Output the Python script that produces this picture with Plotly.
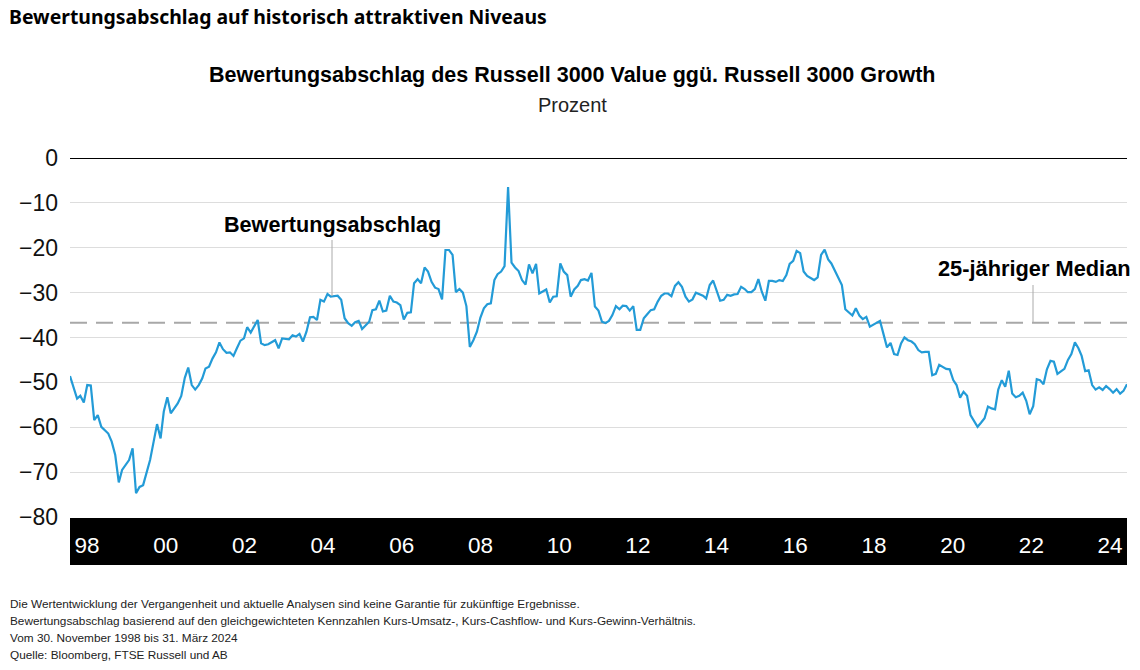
import pandas as pd
import plotly.graph_objects as go

# ---------------- data ----------------
start_date = "1998-11-30"
month_offset = [
    0, 2, 3, 4, 5, 6, 7, 8, 9, 11, 12, 13, 14, 15, 17, 18, 19, 20, 21, 23, 25, 26, 27, 28, 29,
    31, 32, 33, 34, 35, 36, 37, 38, 39, 40, 41, 42, 43, 44, 45, 46, 47, 48, 49, 50, 51, 52, 53,
    54, 55, 56, 57, 59, 60, 61, 63, 64, 65, 66, 67, 68, 69, 70, 71, 72, 73, 74, 75, 77, 78, 79,
    80, 81, 82, 83, 84, 85, 86, 87, 88, 89, 90, 91, 92, 93, 94, 95, 96, 97, 98, 99, 100, 101,
    102, 103, 104, 105, 106, 107, 108, 109, 110, 111, 112, 113, 114, 115, 116, 117, 118, 119,
    120, 121, 122, 123, 124, 125, 126, 127, 128, 129, 130, 131, 132, 133, 134, 135, 137, 138,
    139, 140, 141, 142, 143, 144, 145, 146, 147, 148, 149, 150, 151, 152, 153, 154, 155, 156,
    157, 158, 159, 160, 161, 162, 163, 164, 165, 166, 167, 168, 169, 170, 171, 172, 173, 174,
    175, 176, 177, 178, 179, 180, 181, 182, 183, 184, 185, 186, 187, 188, 189, 190, 191, 192,
    193, 194, 195, 196, 197, 198, 199, 200, 201, 202, 203, 204, 205, 206, 207, 208, 209, 210,
    211, 212, 213, 214, 215, 216, 217, 218, 219, 220, 221, 222, 223, 224, 225, 226, 227, 228,
    229, 230, 232, 233, 234, 235, 236, 237, 238, 239, 240, 241, 242, 243, 244, 245, 246, 247,
    248, 249, 250, 251, 252, 253, 254, 255, 256, 257, 258, 259, 260, 261, 262, 263, 264, 265,
    266, 267, 268, 269, 270, 271, 272, 273, 274, 275, 276, 277, 278, 279, 280, 281, 282, 283,
    284, 285, 286, 287, 288, 289, 290, 291, 292, 293, 294, 295, 296, 297, 298, 299, 300, 301,
    302, 303, 304,
]
discount = [
    -48.6, -53.6, -53.0, -54.5, -50.6, -50.7, -58.4, -57.3, -59.9, -61.4, -63.2, -66.2, -72.3,
    -69.5, -67.3, -64.7, -74.7, -73.3, -72.9, -67.3, -59.3, -62.5, -56.5, -53.3, -56.9,
    -54.7, -53.0, -49.0, -46.7, -50.6, -51.6, -50.6, -49.1, -46.9, -46.5, -44.7, -43.3, -41.1,
    -42.6, -43.4, -43.3, -44.1, -42.4, -40.7, -40.2, -37.7, -38.9, -37.4,
    -36.1, -41.3, -41.7, -41.5, -40.6, -42.4, -40.2, -40.4, -39.5, -39.8, -39.2, -40.9, -38.7,
    -35.5, -35.4, -36.1, -31.6, -32.0, -30.3, -30.9, -30.7, -31.6, -35.7,
    -36.8, -37.4, -36.6, -36.3, -38.1, -37.4, -36.5, -33.9, -33.7, -31.8, -34.2, -34.0, -30.7,
    -32.0, -32.2, -32.8, -36.0, -34.5, -34.4, -27.9, -27.0, -27.9,
    -24.4, -25.3, -27.6, -28.9, -29.2, -31.5, -20.5, -20.5, -21.6, -29.9, -29.2, -30.0, -33.0,
    -42.1, -40.6, -38.7, -35.6, -33.5,
    -32.6, -32.4, -27.2, -25.9, -25.3, -24.1, -6.5, -23.3, -24.4, -25.2, -27.2, -28.2, -23.7,
    -25.7, -23.6, -30.2, -29.3, -32.2,
    -30.9, -30.8, -23.5, -25.3, -26.1, -30.9, -29.3, -28.5, -27.2, -27.0, -27.3, -25.6, -33.1,
    -34.0, -36.5, -36.8, -36.3, -35.0,
    -33.0, -33.7, -32.9, -33.0, -34.0, -33.0, -38.3, -38.3, -35.7, -34.8, -33.9, -33.7, -32.0,
    -30.7, -30.2, -30.2, -30.8, -28.5,
    -27.7, -28.7, -30.9, -32.0, -31.5, -30.0, -30.3, -30.7, -31.3, -28.3, -27.3, -29.8, -31.8,
    -31.6, -30.5, -30.7, -30.4, -30.3,
    -28.7, -29.2, -29.9, -29.9, -29.2, -27.0, -29.8, -31.8, -27.4, -27.4, -27.6, -27.2, -27.4,
    -26.1, -23.6, -22.9, -20.7, -21.2,
    -25.3, -26.3, -26.8, -27.2, -26.6, -21.6, -20.4, -22.6, -23.5, -25.1, -26.8, -28.3, -33.7,
    -34.4, -35.1, -33.5, -35.1, -35.9,
    -35.4, -37.6, -36.8, -36.3, -39.3, -42.2, -41.2, -43.7, -43.9, -41.3, -40.0, -40.6, -40.9,
    -41.5, -42.8, -43.3, -43.2, -43.2,
    -48.4, -48.1, -46.1, -46.5, -47.0, -47.1, -49.5, -50.6, -53.4, -52.1, -53.0, -57.3, -58.5,
    -59.9, -59.0, -58.0, -55.4, -55.8,
    -56.0, -51.6, -49.5, -51.0, -47.4, -52.5, -53.3, -53.0, -52.3, -54.1, -57.1, -55.3, -49.3,
    -49.5, -50.4, -47.1, -45.2, -45.4,
    -48.1, -47.6, -47.0, -45.0, -43.7, -41.1, -42.4, -44.1, -47.5, -47.3, -50.6, -51.6, -51.1,
    -51.7, -50.8, -51.5, -52.3, -51.5,
    -52.5, -51.9, -50.4,
]
median_25y = -36.7
year_ticks = [1998, 2000, 2002, 2004, 2006, 2008, 2010, 2012, 2014, 2016, 2018, 2020, 2022, 2024]
year_labels = ["98", "00", "02", "04", "06", "08", "10", "12", "14", "16", "18", "20", "22", "24"]
y_ticks = [0, -10, -20, -30, -40, -50, -60, -70, -80]

dates = [pd.Timestamp(start_date) + pd.offsets.MonthEnd(m) for m in month_offset]

# ---------------- layout geometry ----------------
W, H = 1140, 670
L, R, T, B = 70, 13, 158, 153
PW, PH = W - L - R, H - T - B


def px_x(px):
    return (px - L) / PW


def px_y(py):
    return (H - B - py) / PH


FONT = "Liberation Sans, Arial, Helvetica, sans-serif"
LINE_COLOR = "#239bd7"

fig = go.Figure()
fig.add_trace(go.Scatter(
    x=dates, y=discount, mode="lines",
    line=dict(color=LINE_COLOR, width=2.2),
    showlegend=False, hoverinfo="x+y",
))
# helper trace so that the year-label axis exists
fig.add_trace(go.Scatter(
    x=year_ticks, y=[None] * len(year_ticks), xaxis="x2", yaxis="y",
    mode="markers", showlegend=False, hoverinfo="skip",
))

fig.update_layout(
    width=W, height=H,
    margin=dict(l=L, r=R, t=T, b=B),
    paper_bgcolor="white", plot_bgcolor="white",
    font=dict(family=FONT, color="#111111"),
    title=dict(
        text="<b>Bewertungsabschlag auf historisch attraktiven Niveaus</b>",
        x=9 / W, xref="container", xanchor="left",
        y=1 - 17 / H, yref="container", yanchor="middle",
        font=dict(family="Noto Sans, sans-serif", size=19.4, color="#000000"),
    ),
    xaxis=dict(
        type="date", range=[dates[0], dates[-1]],
        showgrid=False, showticklabels=False, ticks="", zeroline=False, showline=False,
        fixedrange=True,
    ),
    xaxis2=dict(
        overlaying="x", anchor="y", side="bottom",
        range=[1997.568, 2024.43], tickvals=year_ticks, ticktext=year_labels,
        showgrid=False, zeroline=False, showline=False, ticks="",
        tickfont=dict(family=FONT, size=22.5, color="white"),
        ticklabelstandoff=12,
    ),
    yaxis=dict(
        range=[-80, 0], tickvals=y_ticks,
        showgrid=True, gridcolor="#dddddd", gridwidth=1,
        zeroline=False, showline=False, ticks="",
        tickfont=dict(family=FONT, size=23, color="#111111"),
        ticklabelstandoff=11,
    ),
)

shapes = [
    # black year band
    dict(type="rect", xref="paper", yref="paper", x0=0, x1=1,
         y0=px_y(565), y1=px_y(518), fillcolor="black", line=dict(width=0), layer="below"),
    # zero line
    dict(type="line", xref="paper", yref="y", x0=0, x1=1, y0=0, y1=0,
         line=dict(color="black", width=2)),
    # median dashed line
    dict(type="line", xref="paper", yref="y", x0=0, x1=1, y0=median_25y, y1=median_25y,
         line=dict(color="#a8a8a8", width=2, dash="17px,9px"), layer="below"),
    # annotation leader lines
    dict(type="line", xref="paper", yref="paper", x0=px_x(332), x1=px_x(332),
         y0=px_y(240), y1=px_y(296), line=dict(color="#aaaaaa", width=1)),
    dict(type="line", xref="paper", yref="paper", x0=px_x(1033), x1=px_x(1033),
         y0=px_y(285), y1=px_y(323), line=dict(color="#aaaaaa", width=1)),
]
fig.update_layout(shapes=shapes)

annotations = [
    dict(text="<b>Bewertungsabschlag des Russell 3000 Value ggü. Russell 3000 Growth</b>",
         x=px_x(572), y=px_y(75), font=dict(size=21.5, color="#000000")),
    dict(text="Prozent", x=px_x(572), y=px_y(105), font=dict(size=20, color="#222222")),
    dict(text="<b>Bewertungsabschlag</b>", x=px_x(332), y=px_y(224),
         font=dict(size=21.6, color="#000000")),
    dict(text="<b>25-jähriger Median</b>", x=px_x(1034), y=px_y(268),
         font=dict(size=21.8, color="#000000")),
]
foot = [
    "Die Wertentwicklung der Vergangenheit und aktuelle Analysen sind keine Garantie für zukünftige Ergebnisse.",
    "Bewertungsabschlag basierend auf den gleichgewichteten Kennzahlen Kurs-Umsatz-, Kurs-Cashflow- und Kurs-Gewinn-Verhältnis.",
    "Vom 30. November 1998 bis 31. März 2024",
    "Quelle: Bloomberg, FTSE Russell und AB",
]
for i, line in enumerate(foot):
    annotations.append(dict(text=line, x=px_x(8), y=px_y(604 + 17 * i), xanchor="left",
                            font=dict(size=11.8, color="#222222")))
for a in annotations:
    a.setdefault("xref", "paper")
    a.setdefault("yref", "paper")
    a.setdefault("showarrow", False)
    a.setdefault("xanchor", "center")
    a.setdefault("yanchor", "middle")
fig.update_layout(annotations=annotations)

fig.write_html("out.html", config={"displayModeBar": False},
               post_script="document.body.style.margin='0';")
